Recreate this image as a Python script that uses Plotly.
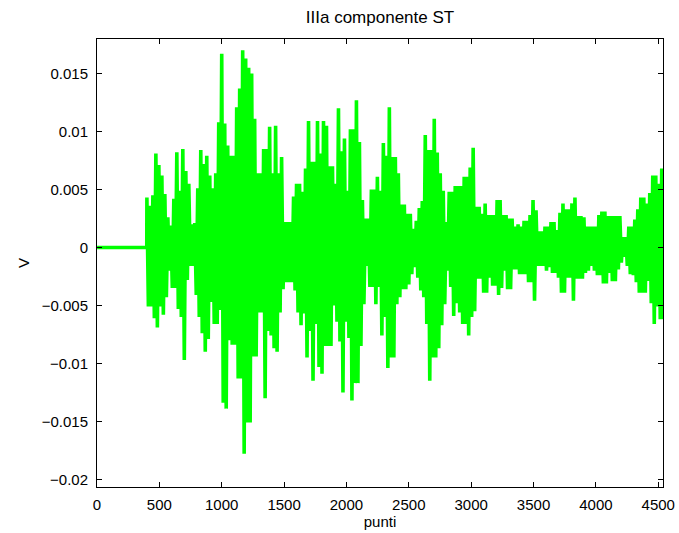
import plotly.graph_objects as go

# --- data (sample index "punti", value in V) ---
lead_idx = [1, 399]          # flat, silent part before the signal starts
lead_val = [0.0, 0.0]

start_idx = 400              # first sample of the active part
step_idx = 12                # spacing between successive read samples

# successive positive peaks (every 24 samples)
v_max = [
    0.0043, 0.0036, 0.0045, 0.0081, 0.0071, 0.0062, 0.0046, 0.0026, 0.0019, 0.0042,
    0.0082, 0.0049, 0.0085, 0.0066, 0.0055, 0.0020, 0.0021, 0.0051, 0.0084, 0.0072,
    0.0079, 0.0062, 0.0051, 0.0064, 0.0108, 0.0167, 0.0107, 0.0088, 0.0079, 0.0079,
    0.0121, 0.0137, 0.0170, 0.0163, 0.0155, 0.0150, 0.0111, 0.0064, 0.0064, 0.0085,
    0.0085, 0.0104, 0.0064, 0.0105, 0.0064, 0.0078, 0.0022, 0.0022, 0.0022, 0.0044,
    0.0055, 0.0055, 0.0048, 0.0068, 0.0109, 0.0074, 0.0074, 0.0109, 0.0081, 0.0109,
    0.0105, 0.0070, 0.0070, 0.0055, 0.0120, 0.0083, 0.0094, 0.0049, 0.0102, 0.0102,
    0.0127, 0.0091, 0.0041, 0.0025, 0.0025, 0.0050, 0.0050, 0.0061, 0.0049, 0.0090,
    0.0079, 0.0121, 0.0078, 0.0078, 0.0064, 0.0037, 0.0037, 0.0029, 0.0029, 0.0016,
    0.0023, 0.0034, 0.0040, 0.0097, 0.0084, 0.0084, 0.0111, 0.0082, 0.0064, 0.0049,
    0.0022, 0.0048, 0.0048, 0.0053, 0.0053, 0.0053, 0.0061, 0.0061, 0.0069, 0.0086,
    0.0035, 0.0035, 0.0029, 0.0038, 0.0028, 0.0028, 0.0028, 0.0041, 0.0041, 0.0028,
    0.0028, 0.0025, 0.0025, 0.0018, 0.0020, 0.0018, 0.0023, 0.0023, 0.0028, 0.0041,
    0.0032, 0.0014, 0.0014, 0.0018, 0.0018, 0.0022, 0.0022, 0.0015, 0.0030, 0.0038,
    0.0033, 0.0033, 0.0038, 0.0043, 0.0027, 0.0027, 0.0026, 0.0018, 0.0018, 0.0018,
    0.0018, 0.0028, 0.0031, 0.0031, 0.0027, 0.0027, 0.0027, 0.0027, 0.0027, 0.0009,
    0.0009, 0.0018, 0.0018, 0.0024, 0.0033, 0.0043, 0.0043, 0.0038, 0.0047, 0.0062,
    0.0062, 0.0055, 0.0068,
]

# successive negative peaks (between the positive ones)
v_min = [
    -0.0051, -0.0051, -0.0061, -0.0069, -0.0051, -0.0058, -0.0043, -0.0020, -0.0035, -0.0035,
    -0.0053, -0.0060, -0.0097, -0.0028, -0.0016, -0.0016, -0.0041, -0.0060, -0.0074, -0.0090,
    -0.0079, -0.0047, -0.0066, -0.0066, -0.0054, -0.0134, -0.0139, -0.0080, -0.0084, -0.0084,
    -0.0113, -0.0113, -0.0178, -0.0151, -0.0151, -0.0094, -0.0094, -0.0056, -0.0056, -0.0130,
    -0.0072, -0.0076, -0.0087, -0.0090, -0.0056, -0.0036, -0.0030, -0.0030, -0.0030, -0.0037,
    -0.0056, -0.0067, -0.0057, -0.0095, -0.0072, -0.0115, -0.0066, -0.0103, -0.0109, -0.0085,
    -0.0085, -0.0085, -0.0050, -0.0064, -0.0081, -0.0125, -0.0064, -0.0078, -0.0132, -0.0117,
    -0.0117, -0.0085, -0.0049, -0.0016, -0.0034, -0.0034, -0.0049, -0.0034, -0.0076, -0.0060,
    -0.0104, -0.0095, -0.0095, -0.0049, -0.0043, -0.0036, -0.0036, -0.0032, -0.0023, -0.0017,
    -0.0026, -0.0037, -0.0043, -0.0066, -0.0115, -0.0095, -0.0095, -0.0087, -0.0067, -0.0049,
    -0.0020, -0.0034, -0.0059, -0.0048, -0.0056, -0.0066, -0.0066, -0.0076, -0.0060, -0.0055,
    -0.0027, -0.0027, -0.0039, -0.0039, -0.0026, -0.0033, -0.0033, -0.0041, -0.0035, -0.0020,
    -0.0036, -0.0036, -0.0019, -0.0019, -0.0023, -0.0023, -0.0023, -0.0030, -0.0030, -0.0046,
    -0.0016, -0.0016, -0.0016, -0.0020, -0.0017, -0.0022, -0.0022, -0.0026, -0.0039, -0.0039,
    -0.0026, -0.0026, -0.0046, -0.0027, -0.0027, -0.0027, -0.0022, -0.0020, -0.0016, -0.0020,
    -0.0024, -0.0024, -0.0031, -0.0031, -0.0022, -0.0029, -0.0029, -0.0019, -0.0013, -0.0008,
    -0.0016, -0.0023, -0.0024, -0.0030, -0.0039, -0.0039, -0.0039, -0.0029, -0.0048, -0.0066,
    -0.0051, -0.0062, -0.0062,
]

x_ticks = [0, 500, 1000, 1500, 2000, 2500, 3000, 3500, 4000, 4500]
y_ticks = [0.015, 0.01, 0.005, 0, -0.005, -0.01, -0.015, -0.02]
y_ticktext = ["0.015", "0.01", "0.005", "0", "\u22120.005", "\u22120.01", "\u22120.015", "\u22120.02"]

# --- build the series: flat part, then alternating +/- peaks ---
xs = list(lead_idx)
ys = list(lead_val)
for k, (hi, lo) in enumerate(zip(v_max, v_min)):
    xs.append(start_idx + 2 * k * step_idx)
    ys.append(hi)
    xs.append(start_idx + (2 * k + 1) * step_idx)
    ys.append(lo)

fig = go.Figure()
fig.add_trace(go.Scatter(
    x=xs, y=ys, mode="lines",
    line=dict(color="#00ff00", width=3.6, simplify=False),
    showlegend=False, hoverinfo="skip",
))

font_family = "Liberation Sans, Arial, Helvetica, sans-serif"
axis_common = dict(
    showline=True, linecolor="black", linewidth=1, mirror="allticks",
    ticks="inside", ticklen=5, tickcolor="black", tickwidth=1,
    showgrid=False, zeroline=False, automargin=False,
    tickfont=dict(family=font_family, size=15, color="black"),
)

fig.update_layout(
    width=679, height=533,
    margin=dict(l=97, r=16, t=39, b=46, autoexpand=False),
    paper_bgcolor="white", plot_bgcolor="white",
    title=dict(text="IIIa componente ST", x=0.5, xanchor="center", xref="paper",
               y=1 - 17 / 533, yanchor="middle",
               font=dict(family=font_family, size=17, color="black")),
    xaxis=dict(range=[0, 4538], tickvals=x_ticks, ticklabelstandoff=4,
               title=dict(text="punti", standoff=2,
                          font=dict(family=font_family, size=15, color="black")),
               **axis_common),
    yaxis=dict(range=[-0.02066, 0.01798], tickvals=y_ticks, ticktext=y_ticktext,
               ticklabelstandoff=5,
               title=dict(text="V", standoff=8,
                          font=dict(family=font_family, size=15, color="black")),
               **axis_common),
)

fig.write_html(
    "out.html",
    config={"displayModeBar": False},
    post_script="document.body.style.margin='0';document.body.style.overflow='hidden';",
)
